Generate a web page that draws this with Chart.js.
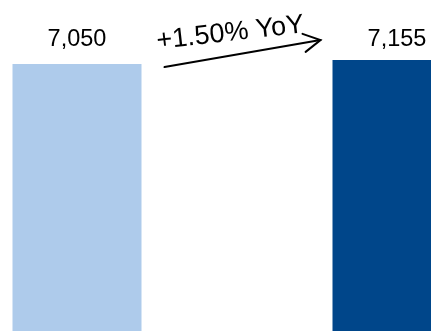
<!DOCTYPE html>
<html>
<head>
<meta charset="utf-8">
<script src="https://cdn.jsdelivr.net/npm/chart.js@4/dist/chart.umd.min.js"></script>
<style>
  html, body { margin: 0; padding: 0; background: #fff; overflow: hidden; width: 431px; height: 331px; }
  #wrap { position: absolute; left: -83px; top: 0; width: 640px; height: 331px; }
</style>
</head>
<body>
<div id="wrap"><canvas id="c" width="640" height="331"></canvas></div>
<script>
const categories = ['Prior year', 'Current year'];
const values = [7050, 7155];
const barColors = ['#AECBEB', '#00468A'];
const growthLabel = '+1.50% YoY';

const FONT = '"Liberation Sans", Arial, sans-serif';

const labelPlugin = {
  id: 'labelPlugin',
  afterDatasetsDraw(chart) {
    const ctx = chart.ctx;
    const meta = chart.getDatasetMeta(0);
    const bars = meta.data;
    const topMost = Math.min(...bars.map(b => b.y));
    ctx.save();
    ctx.fillStyle = '#000';
    ctx.font = '23.5px ' + FONT;
    ctx.textAlign = 'center';
    ctx.textBaseline = 'alphabetic';
    bars.forEach((b, i) => {
      ctx.fillText(values[i].toLocaleString('en-US'), b.x, topMost - 14);
    });

    // arrow between the bars
    const b1 = bars[0], b2 = bars[1];
    const r1 = b1.x + b1.width / 2;
    const l2 = b2.x - b2.width / 2;
    const x0 = r1 + 23, y0 = b1.y + 3;
    const x1 = l2 - 12, y1 = b2.y - 20;
    ctx.strokeStyle = '#000';
    ctx.lineWidth = 2;
    ctx.lineCap = 'round';
    ctx.beginPath();
    ctx.moveTo(x0, y0);
    ctx.lineTo(x1, y1);
    ctx.stroke();
    const ang = Math.atan2(y1 - y0, x1 - x0);
    const hl = 19, ha = 0.5;
    ctx.beginPath();
    ctx.moveTo(x1 - hl * Math.cos(ang - ha), y1 - hl * Math.sin(ang - ha));
    ctx.lineTo(x1, y1);
    ctx.lineTo(x1 - hl * Math.cos(ang + ha), y1 - hl * Math.sin(ang + ha));
    ctx.stroke();

    // rotated growth text
    ctx.translate(r1 + 16, b1.y - 15);
    ctx.rotate(-6.5 * Math.PI / 180);
    ctx.font = '27px ' + FONT;
    ctx.textAlign = 'left';
    ctx.fillText(growthLabel, 0, 0);
    ctx.restore();
  }
};

new Chart(document.getElementById('c'), {
  type: 'bar',
  data: {
    labels: categories,
    datasets: [{
      data: values,
      backgroundColor: barColors,
      borderWidth: 0,
      barPercentage: 129 / 320,
      categoryPercentage: 1
    }]
  },
  options: {
    responsive: false,
    animation: false,
    devicePixelRatio: 1,
    layout: { padding: 0 },
    plugins: { legend: { display: false }, tooltip: { enabled: false } },
    scales: {
      x: { display: false, offset: true },
      y: { display: false, min: 0, max: 8740 }
    }
  },
  plugins: [labelPlugin]
});
</script>
</body>
</html>
